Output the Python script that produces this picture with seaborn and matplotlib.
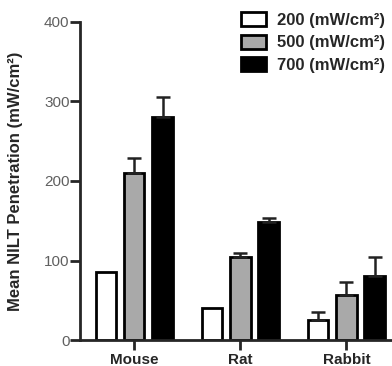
import numpy as np
import pandas as pd
import matplotlib
matplotlib.use("Agg")
import matplotlib.pyplot as plt
import seaborn as sns

species = ["Mouse", "Rat", "Rabbit"]
levels = ["200 (mW/cm²)", "500 (mW/cm²)", "700 (mW/cm²)"]
mean_200 = [85, 40, 25]
mean_500 = [210, 105, 56]
mean_700 = [280, 148, 80]
err_200 = [0, 0, 10]
err_500 = [19, 4, 17]
err_700 = [25, 5, 25]
y_ticks = [0, 100, 200, 300, 400]

sns.set_style("ticks")
plt.rcParams['font.family'] = ['Liberation Sans', 'DejaVu Sans']

rows = []
means = [mean_200, mean_500, mean_700]
errs = [err_200, err_500, err_700]
for li, lev in enumerate(levels):
    for si, sp in enumerate(species):
        rows.append({"species": sp, "level": lev, "mean": means[li][si], "err": errs[li][si]})
df = pd.DataFrame(rows)

fig = plt.figure(figsize=(3.92, 3.66), dpi=100)
ax = fig.add_axes([0.204, 0.071, 0.80, 0.869])

palette = ["#ffffff", "#a9a9a9", "#000000"]
sns.barplot(data=df, x="species", y="mean", hue="level", hue_order=levels,
            order=species, palette=palette, edgecolor="black", linewidth=2,
            width=0.8, gap=0.28, errorbar=None, ax=ax, legend=True)

# error bars (upper only), positioned from the drawn bars
for li, lev in enumerate(levels):
    for si, sp in enumerate(species):
        p = ax.containers[li][si]
        x = p.get_x() + p.get_width() / 2
        h = p.get_height()
        e = errs[li][si]
        if e > 0:
            ax.errorbar([x], [h], yerr=[[0], [e]], fmt="none", ecolor="#222222",
                        elinewidth=1.8, capsize=5, capthick=1.8, zorder=1)

ax.set_ylim(0, 400)
ax.set_xlim(-0.512, 2.445)
ax.set_yticks(y_ticks)
ax.set_yticklabels([str(v) for v in y_ticks], color="#606060", fontsize=11)
ax.set_xlabel("")
ax.set_ylabel("Mean NILT Penetration (mW/cm²)", fontsize=12, fontweight="bold")
ax.yaxis.set_label_coords(-0.183, 0.5)
for lab in ax.get_xticklabels():
    lab.set_fontweight("bold")
    lab.set_fontsize(11)
ax.tick_params(axis="y", width=2, length=7, direction="out", pad=0.5)
ax.tick_params(axis="x", width=2, length=7, direction="out", pad=2)
for s in ["left", "bottom"]:
    ax.spines[s].set_linewidth(2)
sns.despine(ax=ax)

leg = ax.legend(loc="upper left", bbox_to_anchor=(0.515, 1.03), frameon=False,
                prop={"weight": "bold", "size": 12}, handlelength=1.45, handleheight=0.9,
                handletextpad=0.7, labelspacing=0.4, borderaxespad=0, borderpad=0)
for h in leg.legend_handles:
    h.set_edgecolor("black")
    h.set_linewidth(2)

fig.savefig("out.png", dpi=100)
